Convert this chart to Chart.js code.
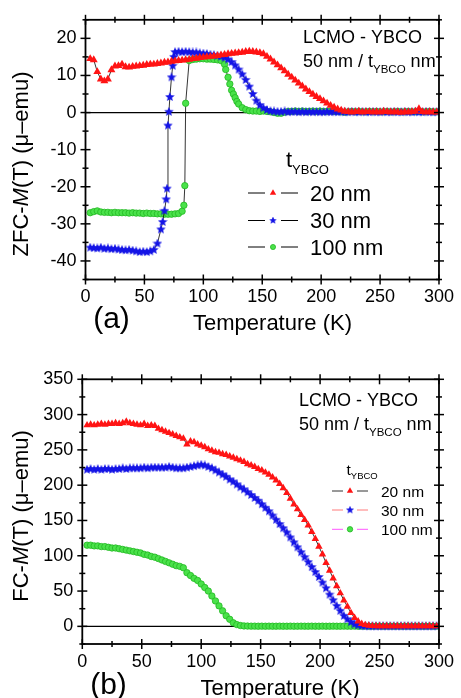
<!DOCTYPE html>
<html>
<head>
<meta charset="utf-8">
<script src="https://cdn.jsdelivr.net/npm/chart.js@4.4.0/dist/chart.umd.min.js"></script>
<style>
html, body { margin: 0; padding: 0; background: #fff; }
#wrap { position: relative; width: 461px; height: 698px; overflow: hidden; }
canvas { position: absolute; left: 0; }
</style>
</head>
<body>
<div id="wrap">
  <canvas id="zfc" width="461" height="338" style="top:0"></canvas>
  <canvas id="fc" width="461" height="360" style="top:338px"></canvas>
</div>
<script>
// ========================================
// ZFC / FC magnetisation, LCMO - YBCO bilayers
// ========================================

// temperature grid (K) shared by all curves
const temps = [4,7,10,13,16,19,22,25,28,31,
  34,37,40,43,46,49,52,55,58,61,
  64,67,70,73,76,79,82,85,88,91,
  94,97,100,103,106,109,112,115,118,121,
  124,127,130,133,136,139,142,145,148,151,
  154,157,160,163,166,169,172,175,178,181,
  184,187,190,193,196,199,202,205,208,211,
  214,217,220,223,226,229,232,235,238,241,
  244,247,250,253,256,259,262,265,268,271,
  274,277,280,283,286,289,292,295,298];

// (a) ZFC-M(T), micro-emu
const zfc20 = [14.5,14.2,11.0,9.0,8.5,9.0,11.5,12.5,12.6,13.0,
  12.3,12.2,12.4,12.5,12.6,12.7,12.9,13.0,13.0,13.2,
  13.3,13.5,13.6,13.8,13.9,14.0,14.1,14.2,14.3,14.5,
  14.6,14.8,14.9,15.0,15.1,15.2,15.3,15.5,15.6,15.8,
  15.9,16.0,16.1,16.2,16.4,16.5,16.4,16.3,16.1,15.8,
  15.1,14.4,13.6,12.8,12.0,11.2,10.3,9.5,8.7,7.9,
  7.1,6.3,5.6,4.9,4.3,3.7,3.1,2.5,1.9,1.4,
  0.9,0.6,0.3,0.2,0.1,0.2,0.3,0.1,0.2,0.2,
  0.1,0.2,0.1,0.3,0.2,0.1,0.2,0.1,0.0,0.2,
  0.1,0.2,0.3,1.0,0.2,0.1,0.2,0.1,0.1];
const zfc30 = [-36.4,-36.5,-36.6,-36.4,-36.7,-36.6,-36.8,-36.7,-36.9,-37.0,
  -37.1,-37.0,-37.2,-37.4,-37.6,-37.5,-37.6,-37.4,-37.0,-35.3,
  -31.5,-26.5,-3.5,9.5,16.3,16.4,16.3,16.4,16.3,16.2,
  16.2,16.0,15.9,15.8,15.6,15.5,15.3,15.1,14.8,14.3,
  13.6,12.7,11.6,10.3,8.8,7.0,5.0,3.2,2.0,1.2,
  0.7,0.4,0.3,0.2,0.2,0.3,0.1,0.2,0.2,0.1,
  0.2,0.1,0.2,0.1,0.2,0.1,0.1,0.2,0.1,0.2,
  0.1,0.2,0.1,0.1,0.2,0.1,0.1,0.2,0.1,0.1,
  0.2,0.1,0.1,0.2,0.1,0.1,0.2,0.1,0.1,0.2,
  0.1,0.1,0.2,0.1,0.1,0.2,0.1,0.1,0.1];
const zfc100 = [-27.0,-26.7,-26.5,-26.8,-26.9,-26.9,-27.0,-26.9,-27.0,-27.0,
  -27.0,-27.1,-27.0,-27.1,-27.1,-27.2,-27.1,-27.2,-27.2,-27.3,
  -27.3,-27.4,-27.4,-27.4,-27.3,-27.2,-26.6,2.5,14.0,14.3,
  14.4,14.5,14.5,14.4,14.4,14.3,14.2,14.0,13.0,9.5,
  6.0,4.0,2.3,1.3,0.8,0.5,0.4,0.4,0.3,0.4,
  0.3,0.2,0.0,-0.2,-0.2,0.1,0.3,0.3,0.4,0.3,
  0.4,0.3,0.3,0.4,0.3,0.4,0.3,0.3,0.4,0.3,
  0.3,0.2,0.1,0.2,0.3,0.2,0.3,0.2,0.2,0.3,
  0.2,0.3,0.2,0.2,0.3,0.2,0.2,0.3,0.2,0.2,
  0.3,0.2,0.2,0.3,0.2,0.2,0.3,0.2,0.2];

// extra readings inside the sharp superconducting steps
const zfc30ExtraT = [65.5, 68.5, 69.2, 70.8, 71.6, 74, 75];
const zfc30ExtraM = [-29.5, -23.4, -20.5, 0.2, 4.2, 12.6, 15.0];
const zfc100ExtraT = [83.5, 84.3, 119, 122.5, 125.5, 128.5];
const zfc100ExtraM = [-25.0, -19.7, 11.6, 7.7, 5.0, 3.0];

// (b) FC-M(T), micro-emu
const fc20 = [285,286,285,286,287,286,287,287,288,287,
  288,290,288,287,286,285,287,284,285,284,
  280,278,276,274,272,270,268,266,258,262,
  261,258,256,254,251,249,247,246,244,243,
  241,239,237,235,233,230,228,226,223,221,
  218,215,211,207,202,196,189,181,173,166,
  158,151,143,134,124,113,102,90,79,68,
  57,47,37,28,19,12,7,3.5,2,1,
  0.6,0.4,0.3,0.2,0.3,0.2,0.2,0.3,0.2,0.2,
  0.3,0.2,0.2,0.3,0.2,0.2,0.3,0.2,0.2];
const fc30 = [222,223,222,223,222,223,223,222,223,223,
  224,223,224,224,224,224,225,224,225,225,
  225,225,225,226,225,224,224,224,225,226,
  227,228,229,228,226,224,221,218,215,212,
  208,205,201,197,194,190,186,182,178,173,
  168,163,157,151,145,139,133,126,119,112,
  105,98,91,84,77,70,62,54,45,37,
  29,22,15,10,6,3,1.5,0.7,0.3,0.2,
  0.2,0.1,0.2,0.2,0.1,0.2,0.2,0.1,0.2,0.2,
  0.1,0.2,0.2,0.1,0.2,0.2,0.1,0.2,0.2];
const fc100 = [115,115,114,114,113,113,112,111,111,110,
  109,108,107,106,105,104,102,101,99,98,
  96,94,92,90,88,86,85,83,76,72,
  68,65,60,55,50,43,36,29,22,15,
  10,5,2.5,1.2,0.6,0.4,0.3,0.3,0.2,0.3,
  0.2,0.3,0.2,0.2,0.3,0.2,0.2,0.3,0.2,0.2,
  0.3,0.2,0.2,0.3,0.2,0.2,0.3,0.2,0.2,0.3,
  0.2,0.2,0.3,0.2,0.2,0.3,0.2,0.2,0.3,0.2,
  0.2,0.3,0.2,0.2,0.3,0.2,0.2,0.3,0.2,0.2,
  0.3,0.2,0.2,0.3,0.2,0.2,0.3,0.2,0.2];

const seriesLabels = ['20 nm', '30 nm', '100 nm'];
const tempTicks = [0, 50, 100, 150, 200, 250, 300];
const zfcTicks = [-40, -30, -20, -10, 0, 10, 20];
const fcTicks = [0, 50, 100, 150, 200, 250, 300, 350];

const FONT = "'Liberation Sans', Arial, Helvetica, sans-serif";
const RED = '#ff1414';
const BLUE = '#1414e6';
const GREEN = '#4ae24a';
const GREEN_EDGE = '#22b822';

function font(size, style) {
    return (style || '') + ' ' + size + 'px ' + FONT;
}

// blue filled five-point star used as point style
function makeStar(size, color) {
    const c = document.createElement('canvas');
    c.width = c.height = size;
    const g = c.getContext('2d');
    const r = size / 2, ri = r * 0.45;
    g.beginPath();
    for (let i = 0; i < 10; i++) {
        const rr = i % 2 ? ri : r;
        const ang = -Math.PI / 2 + i * Math.PI / 5;
        g.lineTo(r + rr * Math.cos(ang), r + rr * Math.sin(ang));
    }
    g.closePath();
    g.fillStyle = color;
    g.fill();
    return c;
}

function buildPoints(ts, ms, extraT, extraM) {
    const pts = ts.map((t, i) => ({ x: t, y: ms[i] }));
    if (extraT) extraT.forEach((t, i) => pts.push({ x: t, y: extraM[i] }));
    return pts.sort((a, b) => a.x - b.x);
}

function makeDataset(label, pts, mk, lineColor) {
    return {
        label: label,
        data: pts,
        showLine: true,
        borderColor: lineColor,
        borderWidth: 0.8,
        pointStyle: mk.shape,
        pointRadius: mk.r,
        pointHoverRadius: mk.r,
        pointBackgroundColor: mk.fill,
        pointBorderColor: mk.edge,
        pointBorderWidth: mk.bw
    };
}

function drawMarker(ctx, mk, x, y, scale) {
    const r = mk.r * (scale || 1);
    ctx.save();
    if (typeof mk.shape === 'object') {
        const w = mk.shape.width * (scale || 1);
        ctx.drawImage(mk.shape, x - w / 2, y - w / 2, w, w);
    } else {
        ctx.beginPath();
        if (mk.shape === 'triangle') {
            for (let i = 0; i < 3; i++) {
                const a = i * 2 * Math.PI / 3;
                ctx.lineTo(x + Math.sin(a) * r, y - Math.cos(a) * r);
            }
            ctx.closePath();
        } else {
            ctx.arc(x, y, r, 0, Math.PI * 2);
        }
        ctx.fillStyle = mk.fill;
        ctx.fill();
        if (mk.bw > 0) {
            ctx.strokeStyle = mk.edge;
            ctx.lineWidth = mk.bw;
            ctx.stroke();
        }
    }
    ctx.restore();
}

function seg(ctx, x0, y0, x1, y1) {
    ctx.beginPath();
    ctx.moveTo(x0, y0);
    ctx.lineTo(x1, y1);
    ctx.stroke();
}

// text with an optional subscript part: [{t, sub}]
function drawRich(ctx, x, y, parts, size, subSize, subDrop) {
    parts.forEach(p => {
        ctx.font = font(p.sub ? subSize : size, p.italic ? 'italic' : '');
        ctx.fillText(p.t, x, p.sub ? y + subDrop : y);
        x += ctx.measureText(p.t).width;
    });
}

function drawYTitle(ctx, parts, bx, cy, size) {
    ctx.save();
    ctx.translate(bx, cy);
    ctx.rotate(-Math.PI / 2);
    let total = 0;
    parts.forEach(p => {
        ctx.font = font(size, p.italic ? 'italic' : '');
        total += ctx.measureText(p.t).width;
    });
    let x = -total / 2;
    parts.forEach(p => {
        ctx.font = font(size, p.italic ? 'italic' : '');
        ctx.fillText(p.t, x, 0);
        x += ctx.measureText(p.t).width;
    });
    ctx.restore();
}

// frame, ticks on four sides, zero line, labels and legend
function framePlugin(panel) {
    return {
        id: 'frame',
        beforeDatasetsDraw(chart) {
            const { ctx, chartArea: a, scales: { y } } = chart;
            ctx.save();
            ctx.strokeStyle = '#000';
            ctx.lineWidth = 1.3;
            const y0 = y.getPixelForValue(0);
            seg(ctx, a.left, y0, a.right, y0);
            ctx.restore();
        },
        afterDatasetsDraw(chart) {
            const { ctx, chartArea: a, scales: { x, y } } = chart;
            ctx.save();
            ctx.strokeStyle = '#000';
            ctx.lineWidth = 1.8;
            ctx.strokeRect(a.left, a.top, a.right - a.left, a.bottom - a.top);
            ctx.lineWidth = 1.5;
            for (let v = x.min; v <= x.max + 0.01; v += panel.xMinor) {
                const px = x.getPixelForValue(v);
                const len = v % panel.xMajor === 0 ? 5 : 3;
                seg(ctx, px, a.bottom - len, px, a.bottom + len);
                seg(ctx, px, a.top - len, px, a.top + len);
            }
            for (let v = y.min; v <= y.max + 0.01; v += panel.yMinor) {
                const py = y.getPixelForValue(v);
                const len = v % panel.yMajor === 0 ? 5 : 3;
                seg(ctx, a.left - len, py, a.left + len, py);
                seg(ctx, a.right - len, py, a.right + len, py);
            }
            ctx.restore();
        },
        afterDraw(chart) {
            const ctx = chart.ctx;
            const T = panel.text;
            ctx.save();
            ctx.fillStyle = '#000';
            ctx.textBaseline = 'alphabetic';
            ctx.textAlign = 'left';

            drawRich(ctx, T.head.x, T.head.y1, [{ t: 'LCMO - YBCO' }], T.head.size);
            drawRich(ctx, T.head.x, T.head.y2,
                [{ t: '50 nm / t' }, { t: 'YBCO', sub: true }, { t: ' nm' }],
                T.head.size, T.head.subSize, T.head.subDrop);

            // legend
            const L = T.legend;
            drawRich(ctx, L.hx, L.hy, [{ t: 't' }, { t: 'YBCO', sub: true }],
                L.size, L.subSize, L.subDrop);
            seriesLabels.forEach((lab, i) => {
                const yy = L.rows[i];
                ctx.strokeStyle = L.lineColors[i];
                ctx.lineWidth = 1;
                seg(ctx, L.x0, yy, L.mx - L.gap, yy);
                seg(ctx, L.mx + L.gap, yy, L.x1, yy);
                drawMarker(ctx, panel.markers[i], L.mx, yy, L.markScale);
                ctx.fillStyle = '#000';
                ctx.font = font(L.size);
                ctx.fillText(lab, L.tx, yy + L.size * 0.36);
            });

            // axis titles
            ctx.textAlign = 'center';
            ctx.font = font(22);
            ctx.fillText('Temperature (K)', T.xTitle.x, T.xTitle.y);
            ctx.font = font(30);
            ctx.fillText(T.tag.t, T.tag.x, T.tag.y);
            ctx.textAlign = 'left';
            drawYTitle(ctx, T.yTitle.parts, T.yTitle.x, T.yTitle.y, 22);
            ctx.restore();
        }
    };
}

function makePanel(canvasId, panel) {
    const tickFont = { family: FONT, size: 18 };
    return new Chart(document.getElementById(canvasId), {
        type: 'scatter',
        data: { datasets: panel.datasets },
        options: {
            responsive: false,
            animation: false,
            devicePixelRatio: 1,
            events: [],
            layout: { padding: { top: panel.padTop, right: panel.padRight, left: 0, bottom: 0 } },
            plugins: { legend: { display: false }, tooltip: { enabled: false } },
            scales: {
                x: {
                    type: 'linear',
                    min: 0,
                    max: 300,
                    afterBuildTicks: s => { s.ticks = tempTicks.map(v => ({ value: v })); },
                    afterFit: s => { s.height = panel.xHeight; },
                    grid: { display: false, drawTicks: false },
                    border: { display: false },
                    ticks: { color: '#000', font: tickFont, padding: 7, maxRotation: 0, autoSkip: false }
                },
                y: {
                    type: 'linear',
                    min: panel.yMin,
                    max: panel.yMax,
                    afterBuildTicks: s => { s.ticks = panel.yTicks.map(v => ({ value: v })); },
                    afterFit: s => { s.width = panel.yWidth; },
                    grid: { display: false, drawTicks: false },
                    border: { display: false },
                    ticks: { color: '#000', font: tickFont, padding: 9, autoSkip: false }
                }
            }
        },
        plugins: [framePlugin(panel)]
    });
}

// ---- panel (a) ----
const markA = [
    { shape: 'triangle', r: 4.6, fill: RED, edge: RED, bw: 0 },
    { shape: makeStar(10, BLUE), r: 5, fill: BLUE, edge: BLUE, bw: 0 },
    { shape: 'circle', r: 3.2, fill: GREEN, edge: GREEN_EDGE, bw: 0.8 }
];
makePanel('zfc', {
    yMin: -45, yMax: 25, yTicks: zfcTicks,
    xMinor: 25, xMajor: 50, yMinor: 5, yMajor: 10,
    padTop: 16.5, padRight: 16, yWidth: 85.5, xHeight: 58.5,
    markers: markA,
    datasets: [
        makeDataset(seriesLabels[0], buildPoints(temps, zfc20), markA[0], '#000'),
        makeDataset(seriesLabels[1], buildPoints(temps, zfc30, zfc30ExtraT, zfc30ExtraM), markA[1], '#000'),
        makeDataset(seriesLabels[2], buildPoints(temps, zfc100, zfc100ExtraT, zfc100ExtraM), markA[2], '#000')
    ],
    text: {
        head: { x: 303, y1: 42.6, y2: 66.6, size: 18, subSize: 11.5, subDrop: 6 },
        legend: { hx: 286, hy: 166.7, size: 22, subSize: 13, subDrop: 7.5, markScale: 0.8,
            rows: [193, 220.5, 247], x0: 248, x1: 298, mx: 273, gap: 8, tx: 310,
            lineColors: ['#000', '#000', '#000'] },
        xTitle: { x: 272.5, y: 330 },
        tag: { t: '(a)', x: 111.5, y: 328 },
        yTitle: { x: 27.9, y: 164, parts: [{ t: 'ZFC-' }, { t: 'M', italic: true }, { t: '(T) (\u03bc\u2013emu)' }] }
    }
});

// ---- panel (b) ----
const markB = [
    { shape: 'triangle', r: 4.3, fill: RED, edge: RED, bw: 0 },
    { shape: makeStar(10, BLUE), r: 5, fill: BLUE, edge: BLUE, bw: 0 },
    { shape: 'circle', r: 3.2, fill: GREEN, edge: GREEN_EDGE, bw: 0.8 }
];
makePanel('fc', {
    yMin: -25, yMax: 350, yTicks: fcTicks,
    xMinor: 25, xMajor: 50, yMinor: 25, yMajor: 50,
    padTop: 41.3, padRight: 16.7, yWidth: 82.3, xHeight: 54,
    markers: markB,
    datasets: [
        makeDataset(seriesLabels[0], buildPoints(temps, fc20), markB[0], '#000'),
        makeDataset(seriesLabels[1], buildPoints(temps, fc30), markB[1], '#ff7a7a'),
        makeDataset(seriesLabels[2], buildPoints(temps, fc100), markB[2], '#ff55ff')
    ],
    text: {
        head: { x: 299, y1: 67.6, y2: 91.6, size: 18, subSize: 11.5, subDrop: 6 },
        legend: { hx: 346.5, hy: 137, size: 15.5, subSize: 9.5, subDrop: 4, markScale: 0.85,
            rows: [153, 172, 191.3], x0: 332, x1: 368, mx: 350, gap: 7, tx: 381,
            lineColors: ['#333', '#ff7a7a', '#ff55ff'] },
        xTitle: { x: 280, y: 356.6 },
        tag: { t: '(b)', x: 108.5, y: 356 },
        yTitle: { x: 27.9, y: 178, parts: [{ t: 'FC-' }, { t: 'M', italic: true }, { t: '(T) (\u03bc\u2013emu)' }] }
    }
});
</script>
</body>
</html>
